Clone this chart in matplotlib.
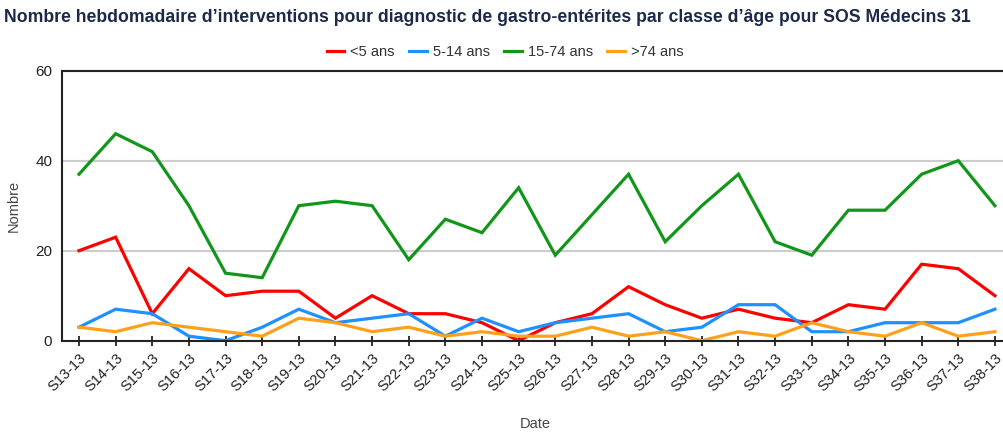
import matplotlib
matplotlib.use("Agg")
import matplotlib.pyplot as plt
from matplotlib import font_manager

weeks = [f"S{w}-13" for w in range(13, 39)]
under5 = [20, 23, 6, 16, 10, 11, 11, 5, 10, 6, 6, 4, 0, 4, 6, 12, 8, 5, 7, 5, 4, 8, 7, 17, 16, 10]
age5_14 = [3, 7, 6, 1, 0, 3, 7, 4, 5, 6, 1, 5, 2, 4, 5, 6, 2, 3, 8, 8, 2, 2, 4, 4, 4, 7]
age15_74 = [37, 46, 42, 30, 15, 14, 30, 31, 30, 18, 27, 24, 34, 19, 28, 37, 22, 30, 37, 22, 19, 29, 29, 37, 40, 30]
over74 = [3, 2, 4, 3, 2, 1, 5, 4, 2, 3, 1, 2, 1, 1, 3, 1, 2, 0, 2, 1, 4, 2, 1, 4, 1, 2]

series_names = ["<5 ans", "5-14 ans", "15-74 ans", ">74 ans"]
series_values = [under5, age5_14, age15_74, over74]
colors = ["#ff0000", "#1e90ff", "#12961a", "#ffa01a"]

installed = {f.name for f in font_manager.fontManager.ttflist}
base = "Liberation Sans" if "Liberation Sans" in installed else "DejaVu Sans"
title_font = "Liberation Sans Narrow" if "Liberation Sans Narrow" in installed else base
plt.rcParams["font.family"] = [base, "DejaVu Sans"]

fig = plt.figure(figsize=(10.04, 4.36), dpi=100)
ax = fig.add_axes([62 / 1004, 1 - 340.7 / 436, (1003 - 62) / 1004, (340.7 - 70.7) / 436])

x = list(range(len(weeks)))
for name, vals, c in zip(series_names, series_values, colors):
    ax.plot(x, vals, color=c, lw=2.3, label=name, solid_joinstyle="miter")

ax.set_ylim(0, 60)
ax.set_yticks([0, 20, 40, 60])
ax.set_xlim(-0.464, 25.22)
ax.set_xticks(x)
ax.set_xticklabels(weeks, rotation=45, ha="right", rotation_mode="anchor", fontsize=10.5, color="#222222")
ax.tick_params(axis="x", direction="inout", length=7, width=1.3, color="#222222", pad=4)
ax.tick_params(axis="y", length=0, labelsize=11, pad=7, labelcolor="#222222")
ax.yaxis.grid(True, color="#cccccc", lw=1.5)
ax.set_axisbelow(True)
for s in ["left", "top", "bottom"]:
    ax.spines[s].set_color("#222222")
    ax.spines[s].set_linewidth(1.5)
ax.spines["right"].set_visible(False)

ax.set_ylabel("Nombre", fontsize=10.5, color="#444444", va="center")
ax.yaxis.set_label_coords((14 - 62) / 941, 0.5)
ax.set_xlabel("Date", fontsize=10.5, color="#444444", va="center")
ax.xaxis.set_label_coords((535 - 62) / 941, (340.7 - 424) / 270)

fig.text(0.004, 0.96, "Nombre hebdomadaire d\u2019interventions pour diagnostic de gastro-ent\u00e9rites par classe d\u2019\u00e2ge pour SOS M\u00e9decins 31",
         fontsize=12.7, fontweight="bold", color="#1c2a48", family=[title_font, "DejaVu Sans"], va="center", ha="left")

fig.legend(loc="center", bbox_to_anchor=(0.503, 1 - 52 / 436), ncol=4, frameon=False,
           fontsize=10.5, handlelength=1.2, handletextpad=0.4, columnspacing=1.0, labelcolor="#333333")

fig.savefig("out.png", dpi=100)
